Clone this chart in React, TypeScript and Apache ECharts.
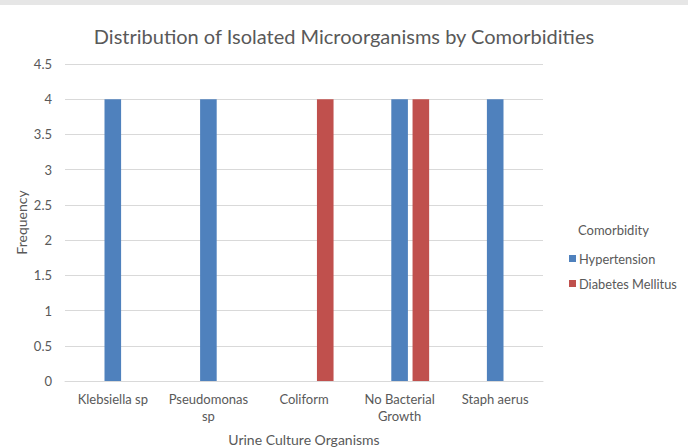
import React, { useEffect, useRef } from "react";
import * as echarts from "echarts";

const categories = ["Klebsiella sp", "Pseudomonas\nsp", "Coliform", "No Bacterial\nGrowth", "Staph aerus"];
const hypertension = [4, 4, null, 4, 4];
const diabetesMellitus = [null, null, 4, 4, null];
const emptySlot = [null, null, null, null, null];
const seriesNames = ["Hypertension", "Diabetes Mellitus"];

const FONT = "Lato";
const GREY = "#595959";

export default function App() {
  const ref = useRef<HTMLDivElement>(null);
  useEffect(() => {
    document.body.style.margin = "0";
    const chart = echarts.init(ref.current!, null, { renderer: "svg" });
    chart.setOption({
      animation: false,
      backgroundColor: "#ffffff",
      textStyle: { fontFamily: FONT, color: GREY },
      title: {
        text: "Distribution of Isolated Microorganisms by Comorbidities",
        left: "center",
        top: 21,
        textStyle: { fontFamily: FONT, fontSize: 20, fontWeight: "normal", color: GREY },
      },
      graphic: [
        { type: "rect", left: 0, top: 0, shape: { width: 688, height: 5 }, style: { fill: "#e6e6e6" } },
        {
          type: "text",
          left: 578,
          top: 223,
          style: { text: "Comorbidity", fontFamily: FONT, fontSize: 13, fill: GREY },
        },
      ],
      legend: {
        data: seriesNames,
        orient: "vertical",
        left: 564,
        top: 247,
        itemWidth: 7,
        itemHeight: 7,
        itemGap: 12,
        icon: "rect",
        textStyle: { fontFamily: FONT, fontSize: 12.8, color: GREY, padding: [0, 0, 0, -2] },
      },
      grid: { left: 65, right: 145, top: 64, bottom: 67, outerBoundsMode: "none", containLabel: false },
      xAxis: {
        type: "category",
        data: categories,
        name: "Urine Culture Organisms",
        nameLocation: "middle",
        nameMoveOverlap: false,
        nameGap: 51,
        nameTextStyle: { fontFamily: FONT, fontSize: 14, color: GREY },
        axisLine: { lineStyle: { color: "#d9d9d9" } },
        axisTick: { show: false },
        axisLabel: { fontFamily: FONT, fontSize: 13, color: GREY, margin: 9, lineHeight: 17, interval: 0 },
      },
      yAxis: {
        type: "value",
        min: 0,
        max: 4.5,
        interval: 0.5,
        name: "Frequency",
        nameLocation: "middle",
        nameMoveOverlap: false,
        nameGap: 37,
        nameTextStyle: { fontFamily: FONT, fontSize: 14, color: GREY },
        axisLine: { show: false },
        axisTick: { show: false },
        splitLine: { lineStyle: { color: "#d9d9d9" } },
        axisLabel: { fontFamily: FONT, fontSize: 13, color: GREY, margin: 13 },
      },
      series: [
        { name: "_empty", type: "bar", data: emptySlot, barWidth: 16.6, barGap: "28%", itemStyle: { color: "transparent" } },
        { name: seriesNames[0], type: "bar", data: hypertension, barWidth: 16.6, barGap: "28%", itemStyle: { color: "#4F81BD" } },
        { name: seriesNames[1], type: "bar", data: diabetesMellitus, barWidth: 16.6, barGap: "28%", itemStyle: { color: "#C0504D" } },
      ],
    });
    return () => chart.dispose();
  }, []);
  return <div ref={ref} style={{ width: 688, height: 448 }} />;
}
